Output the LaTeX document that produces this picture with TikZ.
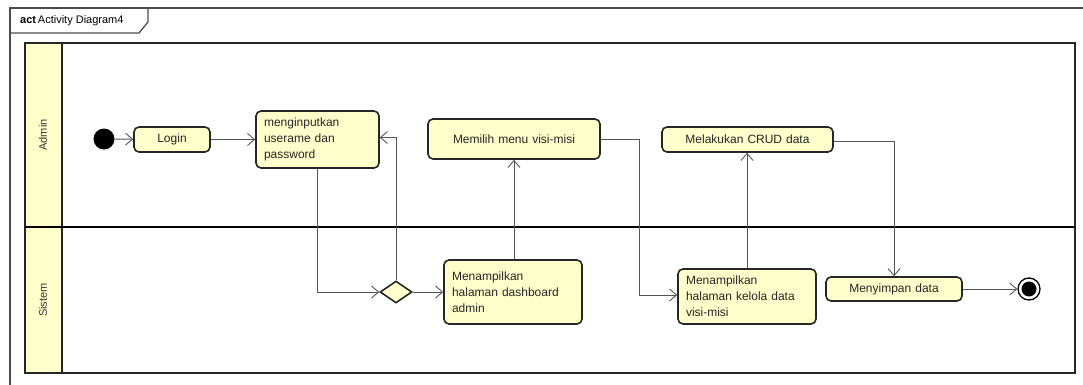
\documentclass[tikz,border=0pt]{standalone}
\usepackage{fontspec}
\setmainfont{Liberation Sans}
\usetikzlibrary{arrows.meta,shapes.geometric,calc}
\definecolor{actfill}{HTML}{FFFFCC}
\definecolor{lanefill}{HTML}{FFFFCC}
\definecolor{edgecol}{HTML}{555555}
\begin{document}
\begin{tikzpicture}[x=1pt,y=-1pt,
  act/.style={draw=black!85,line width=1.6pt,rounded corners=5pt,fill=actfill,
    font=\fontsize{12}{16}\selectfont,align=left,inner xsep=8pt,inner ysep=2pt,text=black!85},
  flow/.style={draw=edgecol,line width=0.9pt,-{Straight Barb[length=7pt,width=12pt,line width=0.9pt]}},
  lanelbl/.style={rotate=90,font=\fontsize{11}{13}\selectfont,text=black!80}]
\useasboundingbox (0,0) rectangle (1083,385);
% outer frame
\draw[black!70,line width=1.3pt] (10,400) -- (10,8) -- (1095,8);
\draw[black!70,line width=1.3pt] (10,33) -- (139,33) -- (148,22) -- (148,8);
\node[anchor=west,inner sep=0pt,font=\fontsize{11}{13}\selectfont] (title) at (20,20.5) {\textbf{act}\,Activity Diagram4};
% swimlanes
\fill[lanefill] (25,43) rectangle (62,373);
\draw[black!85,line width=1.6pt] (25,43) rectangle (1075,373);
\draw[black!85,line width=1.6pt] (62,43) -- (62,373);
\draw[black,line width=2pt] (25,227) -- (1075,227);
\node[lanelbl] (admin) at (43,135) {Admin};
\node[lanelbl] (sistem) at (43,300) {Sistem};
% nodes
\node[circle,fill=black,minimum size=21pt,inner sep=0pt] (init) at (104,139) {};
\node[act,minimum width=76pt,minimum height=25pt,text width=60pt,align=center] (login) at (172,139.5) {Login};
\node[act,minimum width=123pt,minimum height=57pt,text width=107pt] (ming) at (317.5,139.5) {menginputkan\\userame dan\\password};
\node[diamond,draw=black!85,line width=1.6pt,fill=actfill,minimum width=32pt,minimum height=22pt,inner sep=0pt] (dec) at (396,292) {};
\node[act,minimum width=138pt,minimum height=64pt,text width=122pt] (dash) at (513,292) {Menampilkan\\halaman dashboard\\admin};
\node[act,minimum width=172pt,minimum height=40pt,text width=156pt,align=center] (pilih) at (514,139) {Memilih menu visi-misi};
\node[act,minimum width=138pt,minimum height=55pt,text width=122pt] (kelola) at (747,296.5) {Menampilkan\\halaman kelola data\\visi-misi};
\node[act,minimum width=171pt,minimum height=25pt,text width=155pt,align=center] (crud) at (747.5,139.5) {Melakukan CRUD data};
\node[act,minimum width=136pt,minimum height=24pt,text width=120pt,align=center] (save) at (894,289) {Menyimpan data};
\node[circle,draw=black,line width=1.3pt,minimum size=22pt,inner sep=0pt] (final) at (1029,289) {};
\fill[black] (final.center) circle (7.5pt);
% connectors
\draw[flow] (init) -- (login);
\draw[flow] (login.east) -- (login.east -| ming.west);
\draw[flow] (ming.south) |- (dec.west);
\draw[flow] (dec.north) |- ([yshift=2pt]ming.east);
\draw[flow] (dec.east) -- (dash.west);
\draw[flow] (dash.north -| pilih.south) -- (pilih.south);
\draw[flow] (pilih.east) -| ($(pilih.east)!0.5!(kelola.west)$) |- ([yshift=1.5pt]kelola.west);
\draw[flow] (kelola.north) -- (kelola.north |- crud.south);
\draw[flow] ([yshift=-1.5pt]crud.east) -| (save.north);
\draw[flow] (save.east) -- (final.west);
\end{tikzpicture}
\end{document}
